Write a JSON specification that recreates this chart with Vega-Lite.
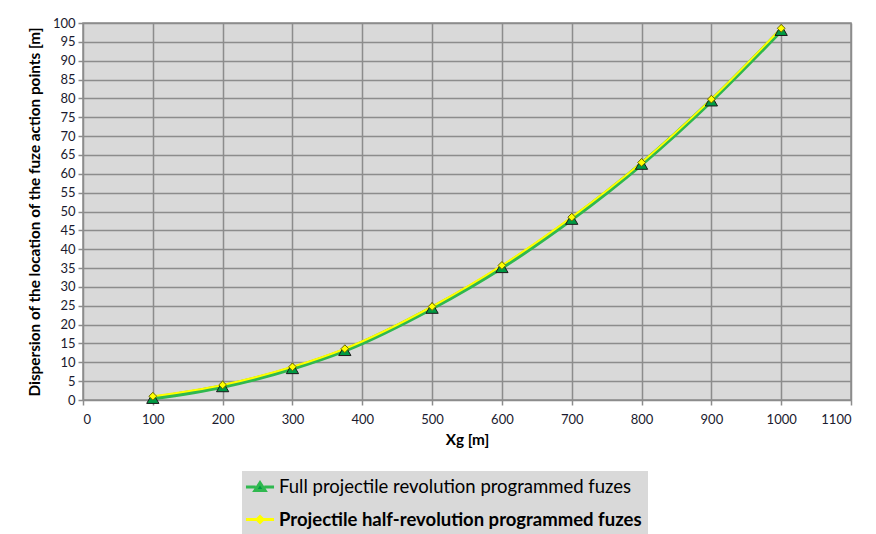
{
  "$schema": "https://vega.github.io/schema/vega-lite/v6.json",
  "width": 768,
  "height": 377,
  "autosize": {"type": "none"},
  "padding": {"left": 83, "top": 23, "right": 25, "bottom": 134},
  "background": "white",
  "config": {
    "font": "Lato",
    "view": {"fill": "#d9d9d9", "stroke": "#8c8c8c", "strokeWidth": 1.5},
    "axis": {
      "grid": true,
      "gridColor": "#8c8c8c",
      "gridWidth": 1.5,
      "domain": false,
      "tickColor": "#8c8c8c",
      "tickSize": 5,
      "tickWidth": 1.5,
      "labelFont": "Lato",
      "labelFontSize": 13,
      "labelColor": "#1a1a2e",
      "titleFont": "Lato",
      "titleFontWeight": "bold",
      "titleFontSize": 15.3,
      "titleColor": "#000000"
    }
  },
  "data": {
    "values": [
      {"x": 100, "y": 0.5, "series": "Full projectile revolution programmed fuzes"},
      {"x": 200, "y": 3.6, "series": "Full projectile revolution programmed fuzes"},
      {"x": 300, "y": 8.4, "series": "Full projectile revolution programmed fuzes"},
      {"x": 375, "y": 13.2, "series": "Full projectile revolution programmed fuzes"},
      {"x": 500, "y": 24.4, "series": "Full projectile revolution programmed fuzes"},
      {"x": 600, "y": 35.2, "series": "Full projectile revolution programmed fuzes"},
      {"x": 700, "y": 48.0, "series": "Full projectile revolution programmed fuzes"},
      {"x": 800, "y": 62.6, "series": "Full projectile revolution programmed fuzes"},
      {"x": 900, "y": 79.4, "series": "Full projectile revolution programmed fuzes"},
      {"x": 1000, "y": 98.1, "series": "Full projectile revolution programmed fuzes"},
      {"x": 100, "y": 1.0, "series": "Projectile half-revolution programmed fuzes"},
      {"x": 200, "y": 4.0, "series": "Projectile half-revolution programmed fuzes"},
      {"x": 300, "y": 8.8, "series": "Projectile half-revolution programmed fuzes"},
      {"x": 375, "y": 13.6, "series": "Projectile half-revolution programmed fuzes"},
      {"x": 500, "y": 24.8, "series": "Projectile half-revolution programmed fuzes"},
      {"x": 600, "y": 35.7, "series": "Projectile half-revolution programmed fuzes"},
      {"x": 700, "y": 48.5, "series": "Projectile half-revolution programmed fuzes"},
      {"x": 800, "y": 63.0, "series": "Projectile half-revolution programmed fuzes"},
      {"x": 900, "y": 79.8, "series": "Projectile half-revolution programmed fuzes"},
      {"x": 1000, "y": 98.6, "series": "Projectile half-revolution programmed fuzes"}
    ]
  },
  "encoding": {
    "x": {
      "field": "x", "type": "quantitative",
      "scale": {"domain": [0, 1100], "nice": false},
      "axis": {"values": [0,100,200,300,400,500,600,700,800,900,1000,1100], "format": "d", "title": "Xg [m]", "labelPadding": 8, "titlePadding": 6}
    },
    "y": {
      "field": "y", "type": "quantitative",
      "scale": {"domain": [0, 100], "nice": false},
      "axis": {"values": [0,5,10,15,20,25,30,35,40,45,50,55,60,65,70,75,80,85,90,95,100], "title": "Dispersion of the location of the fuze action points [m]", "labelPadding": 3, "titlePadding": 10}
    }
  },
  "layer": [
    {
      "transform": [{"filter": "datum.series == 'Full projectile revolution programmed fuzes'"}],
      "mark": {"type": "line", "interpolate": "monotone", "strokeWidth": 4.5},
      "encoding": {
        "color": {
          "field": "series", "type": "nominal",
          "scale": {"domain": ["Full projectile revolution programmed fuzes", "Projectile half-revolution programmed fuzes"], "range": ["#2fb84f", "#ffff00"]},
          "legend": {
            "title": null,
            "orient": "none",
            "legendX": 159,
            "legendY": 448,
            "direction": "vertical",
            "fillColor": "#d9d9d9",
            "padding": 6,
            "labelFont": "Lato",
            "labelFontSize": 18.5,
            "labelColor": "#000000",
            "labelLimit": 600,
            "labelOffset": 9,
            "rowPadding": 12.5,
            "symbolSize": 289,
            "symbolOffset": 2,
            "encode": {
              "symbols": {
                "update": {
                  "shape": {"signal": "datum.value == 'Full projectile revolution programmed fuzes' ? 'M-1.65,0H-0.5M0.5,0H1.65M-0.6,0.42L0,-0.5L0.6,0.42Z' : 'M-1.65,0H-0.35M0.35,0H1.65M0,-0.35L0.35,0L0,0.35L-0.35,0Z'"},
                  "fill": {"signal": "datum.value == 'Full projectile revolution programmed fuzes' ? '#009a44' : '#ffff00'"},
                  "stroke": {"signal": "datum.value == 'Full projectile revolution programmed fuzes' ? '#2fb84f' : '#ffff00'"},
                  "strokeWidth": {"value": 3},
                  "opacity": {"value": 1}
                }
              },
              "labels": {
                "update": {
                  "fontWeight": {"signal": "datum.value == 'Full projectile revolution programmed fuzes' ? 'normal' : 'bold'"}
                }
              }
            }
          }
        }
      }
    },
    {
      "transform": [{"filter": "datum.series == 'Projectile half-revolution programmed fuzes'"}],
      "mark": {"type": "line", "interpolate": "monotone", "strokeWidth": 2},
      "encoding": {
        "color": {"field": "series", "type": "nominal"}
      }
    },
    {
      "transform": [{"filter": "datum.series == 'Full projectile revolution programmed fuzes'"}],
      "mark": {"type": "point", "shape": "triangle-up", "filled": true, "fill": "#009a44", "stroke": "#1a1a1a", "strokeWidth": 1, "size": 150, "opacity": 1},
      "encoding": {}
    },
    {
      "transform": [{"filter": "datum.series == 'Projectile half-revolution programmed fuzes'"}],
      "mark": {"type": "point", "shape": "diamond", "filled": true, "fill": "#ffff00", "stroke": "#6b6b00", "strokeWidth": 1, "size": 60, "opacity": 1},
      "encoding": {}
    }
  ]
}
